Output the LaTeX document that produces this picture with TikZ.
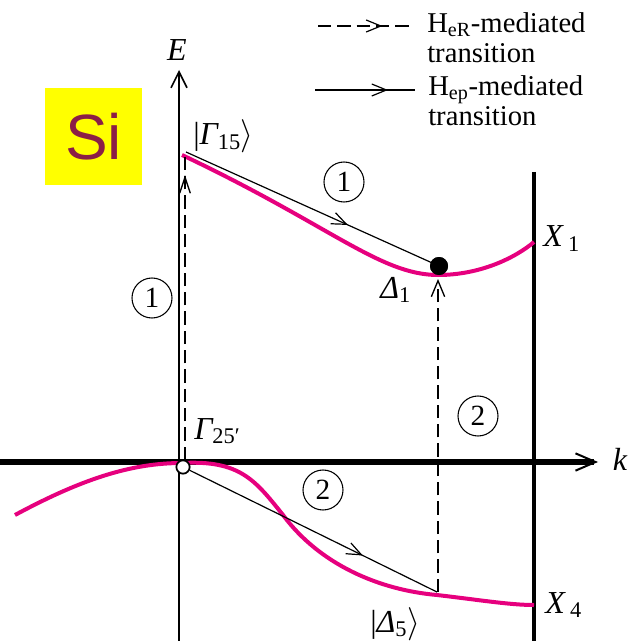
\documentclass[tikz,border=0pt]{standalone}
\usepackage{fontspec}
\setmainfont{Liberation Serif}
\setsansfont{Liberation Sans}
\usetikzlibrary{arrows.meta,decorations.markings}
\definecolor{bandpink}{HTML}{E6007E}
\definecolor{sired}{HTML}{8B1E46}
\definecolor{siyellow}{HTML}{FFFF00}
\begin{document}
\begin{tikzpicture}[x=0.75pt,y=-0.75pt,
  band/.style={draw=bandpink,line width=3pt},
  thinline/.style={draw=black,line width=0.9pt},
  dashline/.style={draw=black,line width=1pt,dash pattern=on 10pt off 4.5pt},
  midarrow/.style={postaction={decorate,decoration={markings,mark=at position #1 with {\arrow{Straight Barb[length=11pt,width=9pt,line width=0.9pt]}}}}},
  uparrow/.style={postaction={decorate,decoration={markings,mark=at position #1 with {\arrow{Straight Barb[length=12pt,width=8pt,line width=1pt]}}}}},
  circnum/.style={circle,draw,line width=0.8pt,minimum size=30pt,inner sep=0pt,font=\fontsize{22}{22}\selectfont},
  lbl/.style={inner sep=0pt,font=\fontsize{24}{24}\selectfont\itshape},
  legendtext/.style={inner sep=0pt,align=left,anchor=north west,font=\fontsize{21.5}{21.5}\selectfont}
]
\useasboundingbox (0,0) rectangle (629,641);

% Si box
\node[fill=siyellow,minimum width=72.75pt,minimum height=72.75pt,inner sep=0pt,
      text=sired,font=\sffamily\fontsize{48}{48}\selectfont] (si) at (93.5,136.5) {Si};

% coordinates
\coordinate (Ebot) at (179,641);
\coordinate (Etop) at (179,70);
\coordinate (kleft) at (0,462);
\coordinate (kright) at (598,462);
\coordinate (Xtop) at (534,172);
\coordinate (Xbot) at (534,641);
\coordinate (G15) at (182,155);
\coordinate (G15a) at (186,152);
\coordinate (D1) at (438,275);
\coordinate (X1) at (534,242);
\coordinate (G25) at (182,463);
\coordinate (D5) at (437,595);
\coordinate (D5a) at (437,592);
\coordinate (X4) at (534,605);
\coordinate (Lstart) at (15,515);
\coordinate (dla) at (185,460);
\coordinate (dlb) at (185,157);
\coordinate (dra) at (438,592);
\coordinate (drb) at (438,279);

% axes
\draw[line width=1.2pt,-{Straight Barb[length=12pt,width=12pt,line width=1.2pt]}] (Ebot) -- (Etop);
\draw[line width=4.5pt,-{Straight Barb[length=15pt,width=13pt,line width=1.5pt]}] (kleft) -- (kright);
\draw[line width=2.6pt] (Xtop) -- (Xbot);

% bands
\draw[band] (G15) .. controls (330,225) and (380,275) .. (D1)
                  .. controls (480,275) and (515,258) .. (X1);
\draw[band] (Lstart) .. controls (80,480) and (130,463) .. (G25)
                  .. controls (240,460) and (255,480) .. (283,515)
                  .. controls (320,565) and (380,590) .. (D5)
                  .. controls (480,600) and (510,605) .. (X4);

% dashed (radiative) transitions
\draw[dashline,uparrow=0.94] (dla) -- (dlb);
\draw[dashline,-{Straight Barb[length=12pt,width=10pt,line width=1pt]}] (dra) -- (drb);

% points
\node[circle,fill=black,inner sep=0pt,minimum size=13.5pt] (dot) at (439,266) {};
\node[circle,draw,fill=white,line width=1.3pt,inner sep=0pt,minimum size=10pt] (oc) at (183,467) {};

% phonon transitions
\draw[thinline,midarrow=0.64] (G15a) -- (dot.center);
\node[circle,fill=black,inner sep=0pt,minimum size=13.5pt] at (dot) {};
\draw[thinline,midarrow=0.70] (oc) -- (D5a);

% circled numbers
\node[circnum] (c1a) at (344,182) {1};
\node[circnum] (c1b) at (152,298) {1};
\node[circnum] (c2a) at (478,416) {2};
\node[circnum] (c2b) at (323,490) {2};

% labels
\node[lbl] (E) at (177,50) {E};
\node[lbl] (k) at (620,459) {k};
\node[lbl,anchor=base west] (lG15) at (193,145) {\upshape|\itshape Γ\textsubscript{\upshape 15}$\rangle$};
\node[lbl,anchor=base west] (lG25) at (194,439) {Γ\textsubscript{\upshape 25′}};
\node[lbl,anchor=base west] (lD1) at (380,298) {Δ\textsubscript{\upshape 1}};
\node[lbl,anchor=base west] (lD5) at (370,632) {\upshape|\itshape Δ\textsubscript{\upshape 5}$\rangle$};
\node[lbl,anchor=base west] (lX1) at (543,247) {X\,\textsubscript{\upshape 1}};
\node[lbl,anchor=base west] (lX4) at (545,613) {X\,\textsubscript{\upshape 4}};

% legend
\coordinate (l1a) at (318,26);
\coordinate (l1b) at (410,26);
\coordinate (l2a) at (315,90);
\coordinate (l2b) at (415,90);
\draw[dashline,midarrow=0.70] (l1a) -- (l1b);
\draw[thinline,midarrow=0.73] (l2a) -- (l2b);
\node[legendtext] (t1) at (427,12) {H\textsubscript{eR}-mediated\\[1pt]transition};
\node[legendtext] (t2) at (428,75) {H\textsubscript{ep}-mediated\\[1pt]transition};
\end{tikzpicture}
\end{document}
